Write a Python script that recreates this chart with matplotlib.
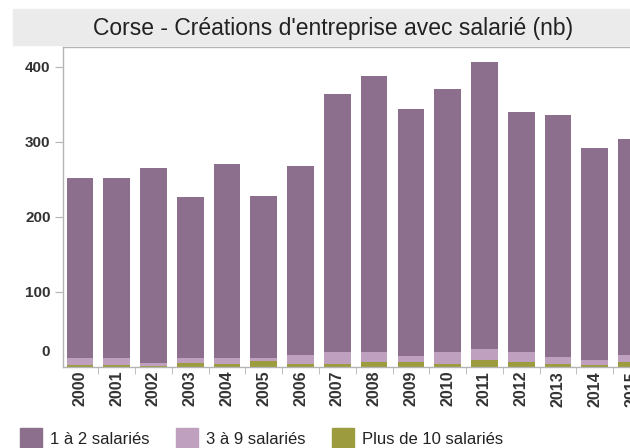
import matplotlib
matplotlib.use("Agg")
import matplotlib.pyplot as plt
from matplotlib.patches import Rectangle
import numpy as np

plt.rcParams["font.family"] = ["Liberation Sans", "DejaVu Sans"]

# données
annees = [str(a) for a in range(2000, 2016)]
plus_10 = [2, 2, 1, 5, 4, 7, 4, 4, 6, 6, 4, 9, 6, 4, 2, 6]
de_3_a_9 = [10, 10, 4, 7, 8, 5, 12, 15, 14, 8, 15, 14, 14, 9, 7, 10]
de_1_a_2 = [240, 240, 260, 214, 258, 216, 252, 345, 367, 329, 351, 383, 319, 322, 283, 287]

c_12 = "#8c6f8c"
c_39 = "#bfa1bf"
c_10 = "#9c9c3e"
gris = "#b4b4b4"
txt_col = "#333333"

fig = plt.figure(figsize=(6.3, 4.48), dpi=100)

# bandeau du titre
fig.patches.append(Rectangle((13 / 630, 1 - 45 / 448), 1, 36 / 448,
                             transform=fig.transFigure, color="#ebebeb", zorder=0))
fig.text(333 / 630, 1 - 28 / 448, "Corse - Créations d'entreprise avec salarié (nb)",
         ha="center", va="center", fontsize=16.5, color="#222222")

ax = fig.add_axes([63 / 630, 1 - 366.7 / 448, 587 / 630, 319.7 / 448])
x = np.arange(len(annees))
w = 0.725
b1 = np.array(plus_10)
b2 = b1 + np.array(de_3_a_9)
ax.bar(x, plus_10, w, color=c_10, zorder=2)
ax.bar(x, de_3_a_9, w, bottom=b1, color=c_39, zorder=2)
ax.bar(x, de_1_a_2, w, bottom=b2, color=c_12, zorder=2)

ax.set_xlim(-0.46, len(annees) - 0.5)
ax.set_ylim(0, 426)

for s in ax.spines.values():
    s.set_color(gris)
    s.set_linewidth(1.0)

ax.set_yticks([100, 200, 300, 400])
ax.set_yticklabels(["100", "200", "300", "400"], fontsize=11, fontweight="bold", color=txt_col)
ax.tick_params(axis="y", length=6, color=gris, pad=3)
ax.annotate("0", xy=(0, 19), xycoords=("axes fraction", "data"), xytext=(-13, 0),
            textcoords="offset pixels", ha="right", va="center",
            fontsize=11, fontweight="bold", color=txt_col)

ax.set_xticks(x)
ax.set_xticklabels(annees, rotation=90, fontsize=11.5, fontweight="bold", color=txt_col)
ax.set_xticks(x + 0.5, minor=True)
ax.tick_params(axis="x", which="major", length=0, pad=3)
ax.tick_params(axis="x", which="minor", length=5, color=gris)

# légende
leg = [("1 à 2 salariés", c_12, 20), ("3 à 9 salariés", c_39, 176), ("Plus de 10 salariés", c_10, 332)]
for txt, col, px in leg:
    fig.patches.append(Rectangle((px / 630, 0), 22 / 630, 20 / 448,
                                 transform=fig.transFigure, color=col))
    fig.text((px + 30) / 630, 1 - 439 / 448, txt, ha="left", va="center",
             fontsize=12, color="#222222")

fig.savefig("out.png", dpi=100)
